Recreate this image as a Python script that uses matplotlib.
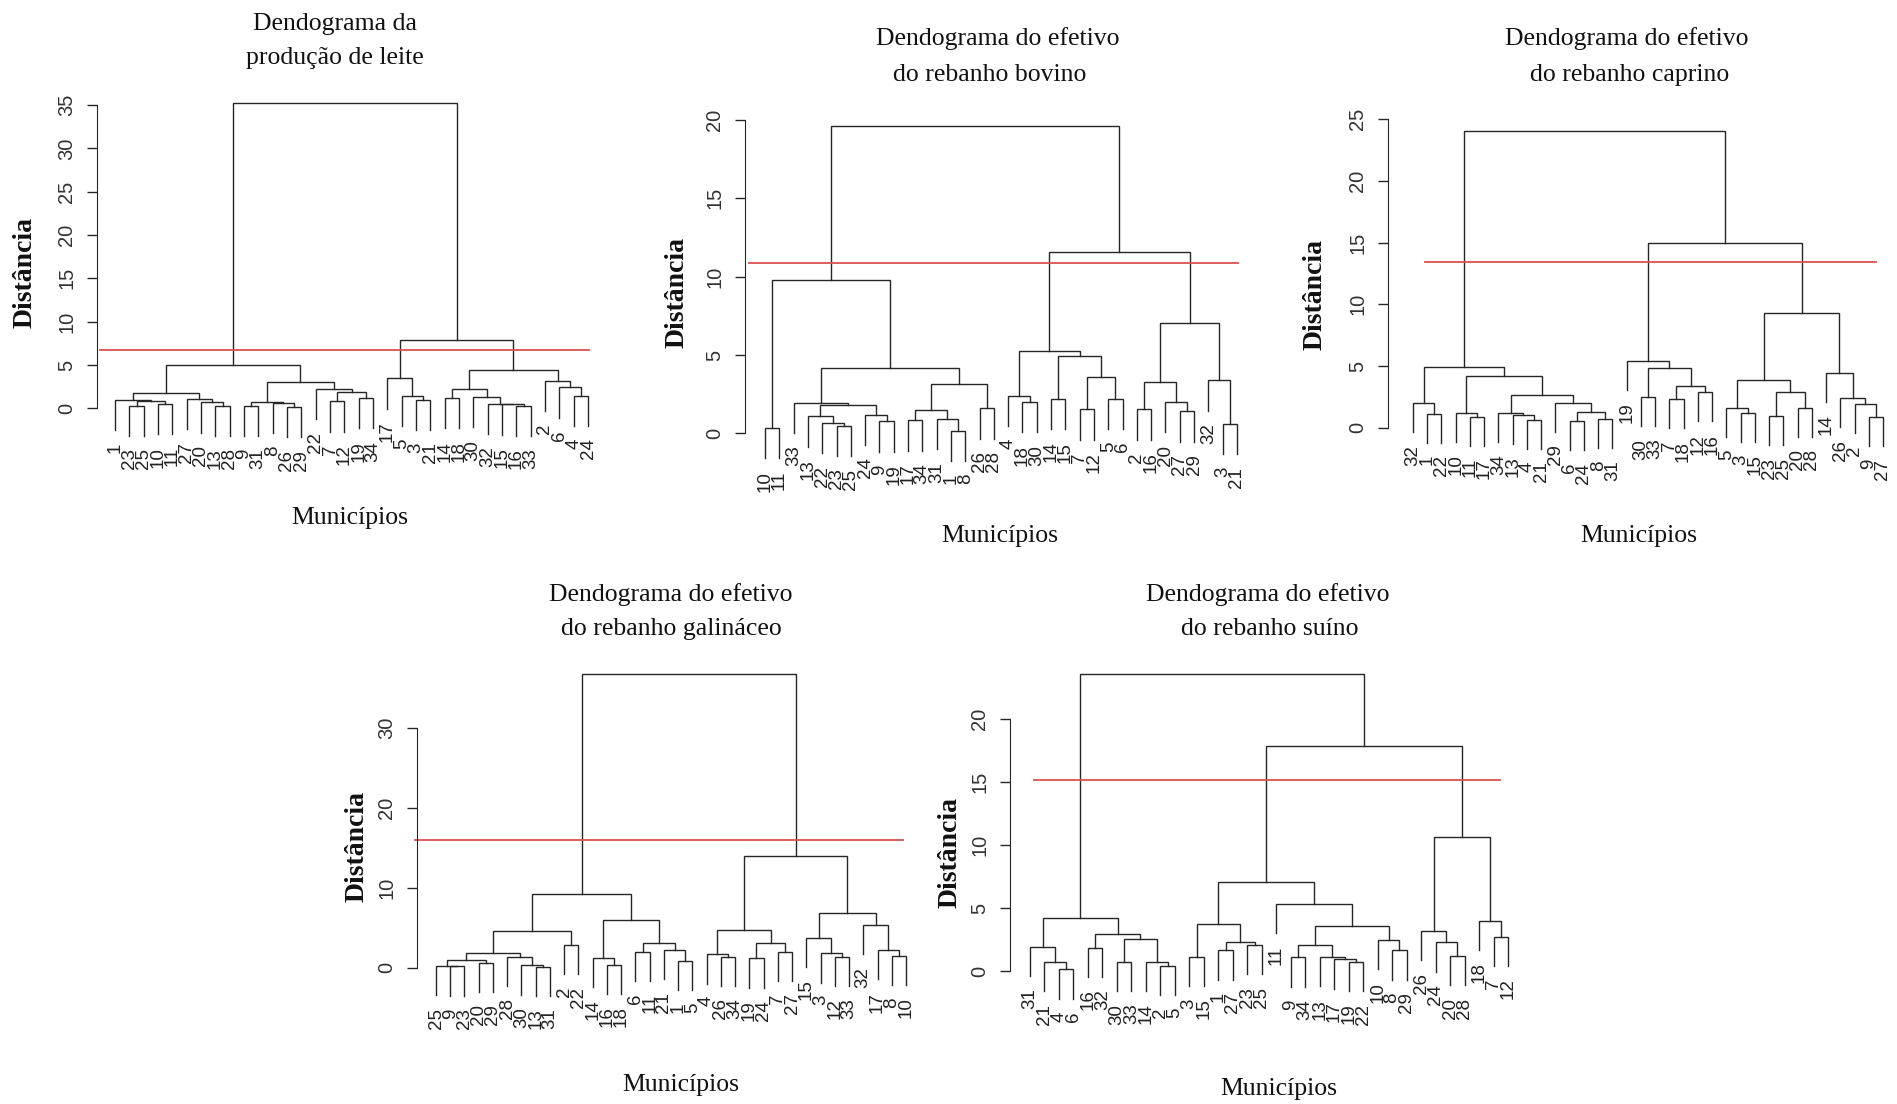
import matplotlib.pyplot as plt

W, H = 1897, 1104

# -----------------------------------------------------
# dendrogram data: (merge height, left, right), leaves are labels
# -----------------------------------------------------
tree_leite = (35.2,
    (4.95,
        (1.78,
            (1.01, '1', (0.82, (0.31, '23', '25'), (0.51, '10', '11'))),
            (1.08, '27', (0.70, '20', (0.31, '13', '28')))),
        (3.02,
            (0.70, (0.31, '9', '31'), (0.60, '8', (0.15, '26', '29'))),
            (2.24, '22', (1.90, (0.80, '7', '12'), (1.20, '19', '34'))))),
    (7.85,
        (3.48, '17', (1.47, '5', (1.0, '3', '21'))),
        (4.37,
            (2.24, (1.2, '14', '18'),
                   (1.3, '30', (0.55, '32', (0.45, '15', (0.3, '16', '33'))))),
            (3.2, '2', (2.44, '6', (1.47, '4', '24'))))))

tree_bovino = (19.6,
    (9.77,
        (0.34, '10', '11'),
        (4.17,
            (1.95, '33', (1.80, (1.09, '13', (0.66, '22', (0.49, '23', '25'))),
                                (1.2, '24', (0.77, '9', '19')))),
            (3.13,
                (1.46, (0.83, '17', '34'), (0.92, '31', (0.17, '1', '8'))),
                (1.59, '26', '28')))),
    (11.6,
        (5.24,
            (2.38, '4', (2.0, '18', '30')),
            (4.96, (2.21, '14', '15'), (3.57, (1.53, '7', '12'), (2.21, '5', '6')))),
        (7.05,
            (3.29, (1.53, '2', '16'), (2.0, '20', (1.42, '27', '29'))),
            (3.39, '32', (0.6, '3', '21')))))

tree_caprino = (24.0,
    (4.94,
        (1.97, '32', (1.15, '1', '22')),
        (4.19,
            (1.23, '10', (0.9, '11', '17')),
            (2.68,
                (1.23, '34', (1.03, '13', (0.62, '4', '21'))),
                (2.02, '29', (1.28, (0.51, '6', '24'), (0.7, '8', '31')))))),
    (15.0,
        (5.41, '19', (4.8, (2.47, '30', '33'),
                           (3.35, (2.29, '7', '18'), (2.87, '12', '16')))),
        (9.31,
            (3.88, (1.57, '5', (1.2, '3', '15')),
                   (2.9, (0.91, '23', '25'), (1.62, '20', '28'))),
            (4.46, '14', (2.37, '26', (1.93, '2', (0.83, '9', '27')))))))

tree_galinaceo = (36.8,
    (9.24,
        (4.61,
            (1.9,
                (0.98, (0.23, '25', (0.18, '9', '23')), (0.65, '20', '29')),
                (1.39, '28', (0.3, '30', (0.15, '13', '31')))),
            (2.86, '2', '22')),
        (5.99,
            (1.27, '14', (0.4, '16', '18')),
            (3.15, (2.02, '6', '11'), (2.23, '21', (0.89, '1', '5'))))),
    (14.0,
        (4.73,
            (1.69, '4', (1.4, '26', '34')),
            (3.15, (1.19, '19', '24'), (2.02, '7', '27'))),
        (6.82,
            (3.77, '15', (1.81, '3', (1.4, '12', '33'))),
            (5.36, '32', (2.23, '17', (1.52, '8', '10'))))))

tree_suino = (23.5,
    (4.21,
        (1.97, '31', (0.78, '21', (0.17, '4', '6'))),
        (2.95,
            (1.89, '16', '32'),
            (2.6, (0.78, '30', '33'), (0.78, '14', (0.46, '2', '5'))))),
    (17.8,
        (7.05,
            (3.74, (1.18, '3', '15'), (2.31, (1.7, '1', '27'), (2.1, '23', '25'))),
            (5.35, '11',
                (3.63,
                    (2.1, (1.12, '9', '34'),
                          (1.16, '13', (0.96, '17', (0.78, '19', '22')))),
                    (2.5, '10', (1.7, '8', '29'))))),
        (10.6,
            (3.24, '26', (2.32, '24', (1.23, '20', '28'))),
            (4.03, '18', (2.76, '7', '12')))))

# cut heights (red lines)
cut_leite = 6.7
cut_bovino = 10.85
cut_caprino = 13.4
cut_galinaceo = 16.0
cut_suino = 15.15

ticks_leite = [0, 5, 10, 15, 20, 25, 30, 35]
ticks_bovino = [0, 5, 10, 15, 20]
ticks_caprino = [0, 5, 10, 15, 20, 25]
ticks_galinaceo = [0, 10, 20, 30]
ticks_suino = [0, 5, 10, 15, 20]

titles = [
    ("Dendograma da", "produção de leite"),
    ("Dendograma do efetivo", "do rebanho bovino"),
    ("Dendograma do efetivo", "do rebanho caprino"),
    ("Dendograma do efetivo", "do rebanho galináceo"),
    ("Dendograma do efetivo", "do rebanho suíno"),
]

SERIF = "Liberation Serif"
SANS = "Liberation Sans"
LINE = "#262626"
RED = "#d9524f"


def heights_of(node, out):
    if isinstance(node, str):
        return out
    out.append(node[0])
    heights_of(node[1], out)
    heights_of(node[2], out)
    return out


def count_leaves(node):
    if isinstance(node, str):
        return 1
    return count_leaves(node[1]) + count_leaves(node[2])


def draw_tree(ax, tree, hang):
    leaves = []

    def walk(node):
        if isinstance(node, str):
            leaves.append(node)
            return len(leaves) - 1, None
        h, a, b = node
        xa, ha = walk(a)
        xb, hb = walk(b)
        ya = h - hang if ha is None else ha
        yb = h - hang if hb is None else hb
        ax.plot([xa, xa, xb, xb], [ya, h, h, yb], color=LINE, lw=1.0,
                solid_joinstyle="miter", clip_on=False)
        for x, hh, y in ((xa, ha, ya), (xb, hb, yb)):
            if hh is None:
                ax.annotate(leaves[int(x)], (x, y), xytext=(0, -9),
                            textcoords="offset points", rotation=90,
                            ha="center", va="top", fontsize=13.5,
                            family=SANS, color="#222222")
        return (xa + xb) / 2.0, h

    walk(tree)


def panel(fig, tree, cut, ticks, first_px, last_px, axis_px, zero_px,
          unit_px, red_px):
    hs = heights_of(tree, [])
    hang = 0.1 * (max(hs) - min(hs))
    n = count_leaves(tree)
    dx = (last_px - first_px) / (n - 1)
    xlo = (axis_px - first_px) / dx - 0.3
    xhi = n - 1 + 0.8
    ylo = -hang - 0.3
    yhi = max(hs) * 1.02
    left = first_px + xlo * dx
    right = first_px + xhi * dx
    top = zero_px - yhi * unit_px
    bottom = zero_px - ylo * unit_px
    ax = fig.add_axes([left / W, 1 - bottom / H, (right - left) / W,
                       (bottom - top) / H])
    ax.set_xlim(xlo, xhi)
    ax.set_ylim(ylo, yhi)
    ax.patch.set_visible(False)
    for s in ("top", "right", "bottom"):
        ax.spines[s].set_visible(False)
    ax.spines["left"].set_position(("data", (axis_px - first_px) / dx))
    ax.spines["left"].set_bounds(ticks[0], ticks[-1])
    ax.spines["left"].set_color(LINE)
    ax.set_xticks([])
    ax.set_yticks(ticks)
    ax.set_yticklabels([str(t) for t in ticks], rotation=90, va="center",
                       fontsize=14.5, family=SANS, color="#333333")
    ax.tick_params(axis="y", length=7, width=1.0, pad=8, color=LINE)

    draw_tree(ax, tree, hang)
    ax.plot([(red_px[0] - first_px) / dx, (red_px[1] - first_px) / dx],
            [cut, cut], color=RED, lw=1.3, clip_on=False)
    return ax


fig = plt.figure(figsize=(W / 100, H / 100), dpi=100)

panel(fig, tree_leite, cut_leite, ticks_leite, 115, 588, 97, 408.3, 8.666,
      (100, 589))
panel(fig, tree_bovino, cut_bovino, ticks_bovino, 765, 1237, 745, 433.3,
      15.67, (749, 1238))
panel(fig, tree_caprino, cut_caprino, ticks_caprino, 1413, 1883, 1388, 427.1,
      12.58, (1425, 1876))
panel(fig, tree_galinaceo, cut_galinaceo, ticks_galinaceo, 436, 906, 417,
      967.8, 7.985, (415, 903))
panel(fig, tree_suino, cut_suino, ticks_suino, 1030, 1508, 1010, 971.5,
      12.645, (1034, 1500))

# text placement in pixels
title_pos = [((335, 24), (335, 58)), ((998, 39), (990, 75)),
             ((1627, 39), (1630, 75)), ((671, 595), (671, 629)),
             ((1268, 595), (1270, 629))]
xlabel_pos = [(350, 518), (1000, 536), (1639, 536), (681, 1085), (1279, 1089)]
ylabel_pos = [(25, 272), (677, 293), (1315, 294), (357, 847), (950, 853)]

for (l1, l2), (p1, p2) in zip(titles, title_pos):
    fig.text(p1[0] / W, 1 - p1[1] / H, l1, ha="center", va="center",
             fontsize=18.5, family=SERIF, color="#111111")
    fig.text(p2[0] / W, 1 - p2[1] / H, l2, ha="center", va="center",
             fontsize=18.5, family=SERIF, color="#111111")

for x, y in xlabel_pos:
    fig.text(x / W, 1 - y / H, "Municípios", ha="center", va="center",
             fontsize=18.5, family=SERIF, color="#111111")

for x, y in ylabel_pos:
    fig.text(x / W, 1 - y / H, "Distância", ha="center", va="center",
             rotation=90, fontsize=20, fontweight="bold", family=SERIF,
             color="#111111")

fig.savefig("out.png", dpi=100)
